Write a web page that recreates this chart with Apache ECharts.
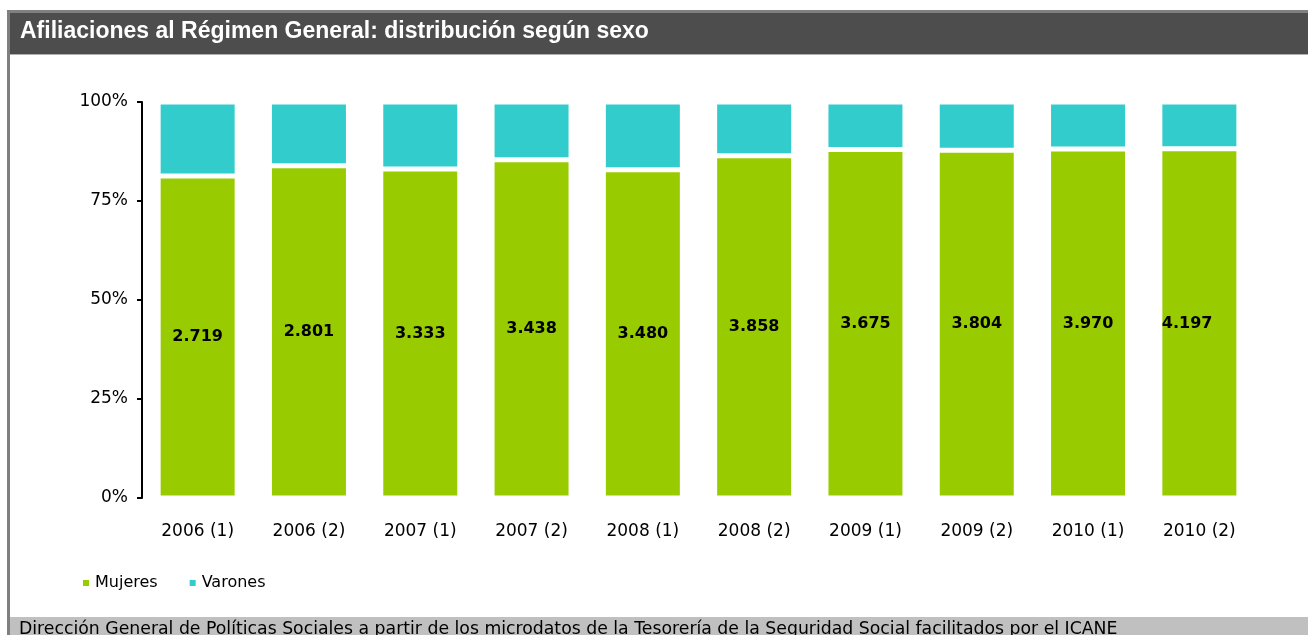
<!DOCTYPE html>
<html>
<head>
<meta charset="utf-8">
<script src="https://cdn.jsdelivr.net/npm/echarts@6/dist/echarts.min.js"></script>
<style>
  html, body { margin: 0; padding: 0; background: #fff; }
  #chart { width: 1308px; height: 635px; }
</style>
</head>
<body>
<div id="chart"></div>
<script>
// datos (miles de afiliados)
var periodos = ['2006 (1)', '2006 (2)', '2007 (1)', '2007 (2)', '2008 (1)', '2008 (2)', '2009 (1)', '2009 (2)', '2010 (1)', '2010 (2)']
var mujeres = [2719, 2801, 3333, 3438, 3480, 3858, 3675, 3804, 3970, 4197]
var varones = [625, 537, 678, 588, 718, 607, 501, 529, 536, 561]
var yTicks = [0, 25, 50, 75, 100]

var titulo = 'Afiliaciones al Régimen General: distribución según sexo'
var fuente = 'Dirección General de Políticas Sociales a partir de los microdatos de la Tesorería de la Seguridad Social facilitados por el ICANE'

function fmtMiles(n) {
  return String(n).replace(/\B(?=(\d{3})+(?!\d))/g, '.')
}

var pctMujeres = mujeres.map(function (m, i) {
  var v = {
    value: m / (m + varones[i]) * 100,
    raw: m
  }
  if (i === mujeres.length - 1) v.label = { position: 'insideLeft', distance: 2 }
  return v
})
var pctVarones = varones.map(function (v, i) {
  return { value: v / (mujeres[i] + v) * 100, raw: v }
})

var chart = echarts.init(document.getElementById('chart'))
chart.setOption({
  animation: false,
  textStyle: { fontFamily: 'DejaVu Sans' },
  graphic: [
    // marco
    { type: 'rect', shape: { x: 7, y: 10, width: 1301, height: 3 }, style: { fill: '#808080' } },
    { type: 'rect', shape: { x: 7, y: 10, width: 3, height: 625 }, style: { fill: '#7f7f7f' } },
    { type: 'rect', shape: { x: 10, y: 13, width: 1298, height: 41 }, style: { fill: '#4d4d4d' } },
    { type: 'rect', shape: { x: 10, y: 54, width: 1298, height: 1 }, style: { fill: '#b0b0b0' } },
    {
      type: 'text', left: 20, top: 20,
      style: { text: titulo, fill: '#fff', font: 'bold 23px "Liberation Sans"' }
    },
    { type: 'rect', shape: { x: 10, y: 617, width: 1298, height: 18 }, style: { fill: '#c0c0c0' } },
    {
      type: 'text', left: 19, top: 621,
      style: { text: fuente, fill: '#000', font: '17.3px "DejaVu Sans"' }
    }
  ],
  legend: {
    left: 76,
    top: 570,
    icon: 'rect',
    itemWidth: 8,
    itemHeight: 8,
    itemGap: 30,
    textStyle: { fontSize: 16, color: '#000' },
    data: ['Mujeres', 'Varones']
  },
  grid: {
    left: 142,
    right: 53,
    top: 102,
    bottom: 137
  },
  xAxis: {
    type: 'category',
    data: periodos,
    axisLine: { show: false },
    axisTick: { show: false },
    axisLabel: { color: '#000', fontSize: 17, margin: 25 }
  },
  yAxis: {
    type: 'value',
    min: 0,
    max: 100,
    interval: 25,
    axisLine: { show: true, lineStyle: { color: '#000', width: 2 } },
    axisTick: { show: true, length: 5, lineStyle: { color: '#000', width: 2 } },
    splitLine: { show: false },
    axisLabel: {
      color: '#000', fontSize: 17, margin: 14,
      formatter: function (v) { return yTicks.indexOf(v) >= 0 ? v + '%' : '' }
    }
  },
  series: [{
    name: 'Mujeres',
    type: 'bar',
    stack: 'total',
    barWidth: 79,
    data: pctMujeres,
    itemStyle: { color: '#99cc00', borderColor: '#fff', borderWidth: 2.5 },
    label: {
      show: true,
      position: 'inside',
      color: '#000',
      fontWeight: 'bold',
      fontSize: 16,
      formatter: function (p) { return fmtMiles(p.data.raw) }
    }
  }, {
    name: 'Varones',
    type: 'bar',
    stack: 'total',
    barWidth: 79,
    data: pctVarones,
    itemStyle: { color: '#33cccc', borderColor: '#fff', borderWidth: 2.5 }
  }]
})
</script>
</body>
</html>
